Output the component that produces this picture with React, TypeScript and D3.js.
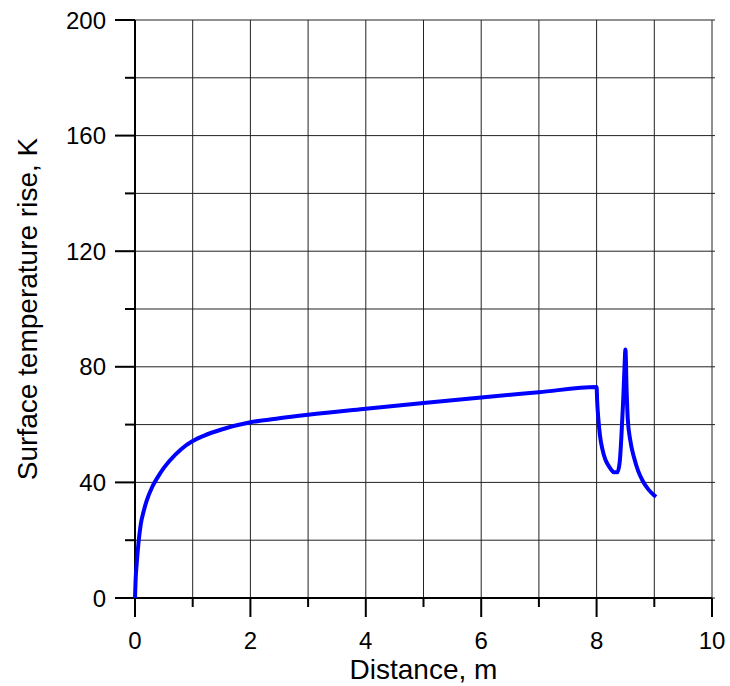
import React, { useEffect, useRef } from 'react';
import * as d3 from 'd3';

// distance (m) and surface temperature rise (K)
const distance = [
  0, 0.01, 0.03, 0.06, 0.1, 0.15, 0.2, 0.3, 0.4, 0.5, 0.6, 0.8, 1.0, 1.2, 1.5,
  2.0, 2.5, 3.0, 4.0, 5.0, 6.0, 7.0, 8.0,
  8.01, 8.03, 8.06, 8.1, 8.15, 8.2, 8.25, 8.3, 8.36, 8.4, 8.43, 8.46, 8.48, 8.5,
  8.52, 8.54, 8.58, 8.65, 8.72, 8.8, 8.9, 9.0, 9.03,
];
const tempRise = [
  0, 6, 12, 19, 25.5, 30, 33.5, 38.5, 42, 45, 47.5, 51.5, 54.3, 56.2, 58.3,
  60.8, 62.2, 63.4, 65.5, 67.5, 69.4, 71.2, 73,
  68, 62, 56, 51.5, 48, 46, 44.5, 43.5, 43.5, 47, 56, 68, 78, 86,
  72, 62, 55, 48.5, 44, 40.5, 37.5, 35.5, 35,
];
const xTicks = [0, 2, 4, 6, 8, 10];
const yTicks = [0, 40, 80, 120, 160, 200];

const App = () => {
  const svgRef = useRef<SVGSVGElement>(null);

  useEffect(() => {
    const width = 730;
    const height = 686;
    const margin = { top: 20, right: 18, bottom: 88, left: 135 };
    const font = 'Arial, "Liberation Sans", sans-serif';

    const svg = d3.select(svgRef.current);
    svg.selectAll('*').remove();

    const x = d3.scaleLinear().domain([0, 10]).range([margin.left, width - margin.right]);
    const y = d3.scaleLinear().domain([0, 200]).range([height - margin.bottom, margin.top]);

    const gridX = d3.range(0, 11, 1);
    const gridY = d3.range(0, 201, 20);

    // grid
    svg.append('g')
      .selectAll('line')
      .data(gridX)
      .join('line')
      .attr('x1', d => x(d)).attr('x2', d => x(d))
      .attr('y1', y(200)).attr('y2', y(0))
      .attr('stroke', '#222').attr('stroke-width', 1);

    svg.append('g')
      .selectAll('line')
      .data(gridY)
      .join('line')
      .attr('x1', x(0)).attr('x2', x(10) + 3)
      .attr('y1', d => y(d)).attr('y2', d => y(d))
      .attr('stroke', '#222').attr('stroke-width', 1);

    // ticks
    svg.append('g')
      .selectAll('line')
      .data(gridX)
      .join('line')
      .attr('x1', d => x(d)).attr('x2', d => x(d))
      .attr('y1', y(0)).attr('y2', d => y(0) + (d % 2 === 0 ? 19 : 9))
      .attr('stroke', '#000').attr('stroke-width', 2);

    svg.append('g')
      .selectAll('line')
      .data(gridY)
      .join('line')
      .attr('y1', d => y(d)).attr('y2', d => y(d))
      .attr('x1', x(0)).attr('x2', d => x(0) - (d % 40 === 0 ? 20 : 10))
      .attr('stroke', '#000').attr('stroke-width', 2);

    // axes
    svg.append('line')
      .attr('x1', x(0)).attr('x2', x(0)).attr('y1', y(200)).attr('y2', y(0))
      .attr('stroke', '#000').attr('stroke-width', 2);
    svg.append('line')
      .attr('x1', x(0) - 1).attr('x2', x(10)).attr('y1', y(0)).attr('y2', y(0))
      .attr('stroke', '#000').attr('stroke-width', 2);

    // tick labels
    svg.append('g')
      .selectAll('text')
      .data(xTicks)
      .join('text')
      .attr('x', d => x(d))
      .attr('y', y(0) + 51)
      .attr('text-anchor', 'middle')
      .style('font-family', font)
      .style('font-size', '24px')
      .text(d => d);

    svg.append('g')
      .selectAll('text')
      .data(yTicks)
      .join('text')
      .attr('x', x(0) - 29)
      .attr('y', d => y(d) + 8.5)
      .attr('text-anchor', 'end')
      .style('font-family', font)
      .style('font-size', '24px')
      .text(d => d);

    // axis titles
    svg.append('text')
      .attr('x', (x(0) + x(10)) / 2)
      .attr('y', 679)
      .attr('text-anchor', 'middle')
      .style('font-family', font)
      .style('font-size', '28px')
      .text('Distance, m');

    svg.append('text')
      .attr('transform', `translate(37,${(y(0) + y(200)) / 2}) rotate(-90)`)
      .attr('text-anchor', 'middle')
      .style('font-family', font)
      .style('font-size', '28px')
      .text('Surface temperature rise, K');

    // curve
    const pts: [number, number][] = distance.map((d, i) => [d, tempRise[i]]);
    const line = d3.line<[number, number]>()
      .x(d => x(d[0]))
      .y(d => y(d[1]))
      .curve(d3.curveMonotoneX);

    svg.append('path')
      .datum(pts)
      .attr('d', line)
      .attr('fill', 'none')
      .attr('stroke', '#0000ff')
      .attr('stroke-width', 4)
      .attr('stroke-linejoin', 'round');
  }, []);

  return (
    <svg
      ref={svgRef}
      width={730}
      height={686}
      style={{ position: 'absolute', left: 0, top: 0, background: '#fff' }}
    />
  );
};

export default App;
